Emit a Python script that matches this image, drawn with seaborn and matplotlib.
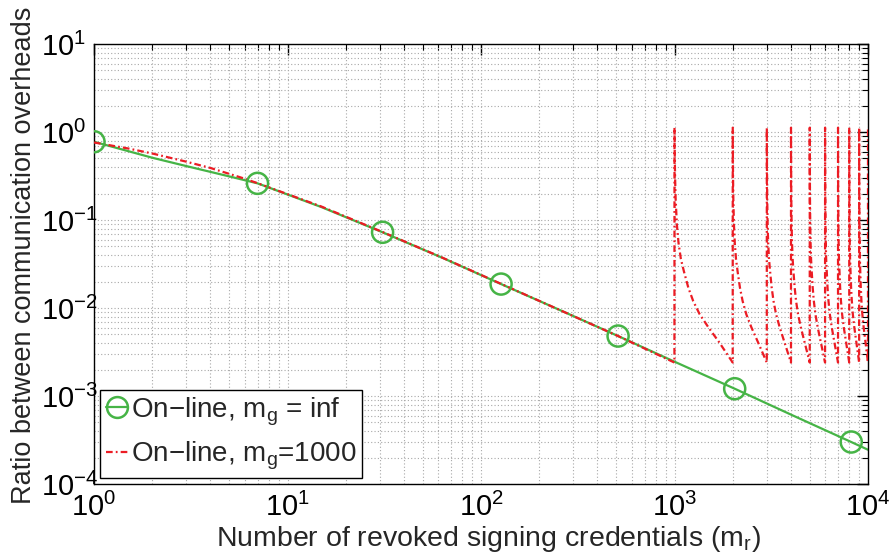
import numpy as np
import pandas as pd
import matplotlib
matplotlib.use("Agg")
import matplotlib.pyplot as plt
from matplotlib import font_manager
from matplotlib.lines import Line2D
from matplotlib.ticker import LogLocator, LogFormatterMathtext, NullFormatter
import seaborn as sns

# On-line scheme with unlimited group size (m_g = inf)
inf_x = [1, 2, 3, 5, 7, 15, 31, 63, 127, 255, 511, 1023, 2047, 4095, 8191, 10000]
inf_y = [0.775, 0.51, 0.41, 0.313, 0.261, 0.14, 0.0725, 0.0373, 0.0187, 0.0095,
         0.0048, 0.0024, 0.00121, 0.0006, 0.0003, 0.000245]
# marked samples on the m_g = inf curve
mark_x = [1, 7, 31, 127, 511, 2047, 8191]
mark_y = [0.775, 0.261, 0.0725, 0.0187, 0.0048, 0.00121, 0.0003]

# On-line scheme with m_g = 1000: part before the first group boundary
grp_head_x = [1, 1.5, 2, 3, 4, 5, 6, 7, 15, 31, 63, 127, 255, 511, 999]
grp_head_y = [0.76, 0.65, 0.57, 0.46, 0.39, 0.335, 0.295, 0.262, 0.142, 0.073,
              0.0374, 0.0188, 0.0095, 0.0048, 0.0024]
# every new group restarts the ratio, which then decays again
grp_starts = [1000, 2000, 3000, 4000, 5000, 6000, 7000, 8000, 9000]
grp_offsets = [0, 2, 7, 14, 29, 49, 79, 119, 179, 249, 349, 499, 699, 999]
grp_decay = [1.12, 0.62, 0.3, 0.17, 0.088, 0.055, 0.036, 0.026, 0.017, 0.012,
             0.0085, 0.006, 0.0041, 0.0024]
grp_end_x = [10000]
grp_end_y = [1.12]

GREEN = "#46b446"
RED = "#ec1c24"

sns.set_theme(style="white")


def pick_font(names):
    for n in names:
        try:
            font_manager.findfont(font_manager.FontProperties(family=n),
                                  fallback_to_default=False)
            return n
        except Exception:
            continue
    return "DejaVu Sans"


FONT = pick_font(["Liberation Sans", "Arimo", "Arial"])
plt.rcParams["font.family"] = [FONT, "DejaVu Sans"]
plt.rcParams["mathtext.fontset"] = "custom"
plt.rcParams["mathtext.rm"] = FONT
plt.rcParams["mathtext.it"] = FONT
plt.rcParams["mathtext.default"] = "regular"

TICK_FS = 21
LEG_FS = 20

fig = plt.figure(figsize=(8.9, 5.55), dpi=100)
ax = fig.add_axes([94 / 890, 1 - 484 / 555, 774 / 890, 440 / 555])

df_inf = pd.DataFrame({"x": inf_x, "y": inf_y})
mg_x = list(grp_head_x)
mg_y = list(grp_head_y)
for s in grp_starts:
    mg_x += [s + d for d in grp_offsets]
    mg_y += grp_decay
mg_x += grp_end_x
mg_y += grp_end_y
df_mg = pd.DataFrame({"x": mg_x, "y": mg_y})

DASHDOT = (0, (3, 1.4, 0.8, 1.4))

sns.lineplot(data=df_inf, x="x", y="y", ax=ax, color=GREEN, lw=1.6,
             estimator=None, sort=False, legend=False, zorder=2)
sns.lineplot(data=df_mg, x="x", y="y", ax=ax, color=RED, lw=1.6,
             linestyle=DASHDOT, estimator=None, sort=False, legend=False, zorder=3)
sns.scatterplot(x=mark_x, y=mark_y, ax=ax, marker="o", s=230,
                facecolor="none", edgecolor=GREEN, linewidth=1.8,
                legend=False, zorder=4)

ax.set_xscale("log")
ax.set_yscale("log")
ax.set_xlim(1, 1e4)
ax.set_ylim(1e-4, 10)

ax.xaxis.set_major_locator(LogLocator(base=10, numticks=10))
ax.yaxis.set_major_locator(LogLocator(base=10, numticks=10))
ax.xaxis.set_minor_locator(LogLocator(base=10, subs=np.arange(2, 10), numticks=100))
ax.yaxis.set_minor_locator(LogLocator(base=10, subs=np.arange(2, 10), numticks=100))
ax.xaxis.set_major_formatter(LogFormatterMathtext())
ax.yaxis.set_major_formatter(LogFormatterMathtext())
ax.xaxis.set_minor_formatter(NullFormatter())
ax.yaxis.set_minor_formatter(NullFormatter())

ax.grid(True, which="both", linestyle=(0, (1, 2)), color="#a8a8a8", linewidth=0.8)
ax.tick_params(which="both", direction="in", top=True, right=True,
               colors="black", labelsize=TICK_FS)
ax.tick_params(which="major", length=8, width=1)
ax.tick_params(which="minor", length=4, width=0.8)
ax.tick_params(axis="x", which="major", pad=6)
# y labels: the "10" bases share a common left edge, exponents run to the right
ax.tick_params(axis="y", which="major", pad=38.0)
for sp in ax.spines.values():
    sp.set_color("black")
    sp.set_linewidth(1)

ax.set_xlabel("Number of revoked signing credentials (m$_r$)", fontsize=20.5)
ax.set_ylabel("Ratio between communication overheads", fontsize=19.5)
ax.xaxis.set_label_coords(0.51, -0.091)
ax.yaxis.set_label_coords(-0.074, 0.52)

handles = [
    Line2D([], [], color=GREEN, lw=1.6, marker="o", markersize=15,
           markerfacecolor="none", markeredgewidth=1.8),
    Line2D([], [], color=RED, lw=1.6, linestyle=DASHDOT),
]
labels = ["On\u2212line, m$_g$ = inf", "On\u2212line, m$_g$=1000"]
leg = ax.legend(handles, labels, loc="lower left", fontsize=LEG_FS,
                frameon=True, fancybox=False, framealpha=1, edgecolor="black",
                handlelength=0.8, handletextpad=0.12, borderpad=0.2,
                labelspacing=0.45, borderaxespad=0.22, numpoints=1)
leg.get_frame().set_linewidth(1)

for lab in ax.get_yticklabels():
    lab.set_horizontalalignment("left")

fig.savefig("out.png", dpi=100)
